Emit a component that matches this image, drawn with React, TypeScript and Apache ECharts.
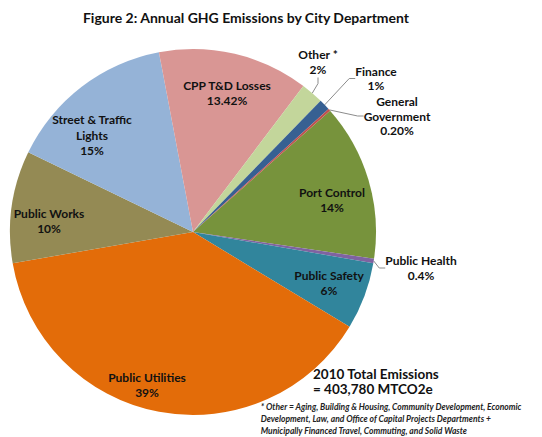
import React, { useEffect, useRef } from "react";
import * as echarts from "echarts";

const departments = [
  "Port Control",
  "Public Health",
  "Public Safety",
  "Public Utilities",
  "Public Works",
  "Street & Traffic Lights",
  "CPP T&D Losses",
  "Other *",
  "Finance",
  "General Government",
];
const displayNames = [
  "Port Control",
  "Public Health",
  "Public Safety",
  "Public Utilities",
  "Public Works",
  "Street & Traffic\nLights",
  "CPP T&D Losses",
  "Other *",
  "Finance",
  "General\nGovernment",
];
const shares = [14, 0.4, 6, 39, 10, 15, 13.42, 2, 1, 0.2];
const shareText = ["14%", "0.4%", "6%", "39%", "10%", "15%", "13.42%", "2%", "1%", "0.20%"];
const outsideLabel = [false, true, false, false, false, false, false, true, true, true];

const sliceColors = [
  "#77933C",
  "#7F63A1",
  "#31859C",
  "#E36C09",
  "#948A54",
  "#95B3D7",
  "#D99694",
  "#C3D69B",
  "#376092",
  "#C0504D",
];
// label centres (layout only)
const labelCentres: [number, number][] = [
  [332, 200],
  [421, 268],
  [329, 283],
  [147, 385],
  [49, 221],
  [92, 135],
  [227, 93],
  [318, 62],
  [376, 78.5],
  [397, 116],
];
const labelLineHeights = [15.5, 15.5, 15.5, 15.5, 15.5, 15.5, 15.5, 15.5, 14.5, 14.5];

const FONT = "Lato, 'Open Sans', sans-serif";

export default function App() {
  const ref = useRef<HTMLDivElement>(null);
  useEffect(() => {
    if (!ref.current) return;
    const chart = echarts.init(ref.current, undefined, { renderer: "svg" });
    const data = departments.map((name, i) => ({
      name,
      value: shares[i],
      itemStyle: { color: sliceColors[i] },
      label: {
        position: outsideLabel[i] ? "outside" : "inside",
        formatter: displayNames[i] + "\n" + shareText[i],
        lineHeight: labelLineHeights[i],
      },
      labelLine: { show: outsideLabel[i] },
    }));
    chart.setOption({
      animation: false,
      backgroundColor: "#ffffff",
      title: {
        text: "Figure 2: Annual GHG Emissions by City Department",
        left: 241,
        textAlign: "center",
        top: 5,
        textStyle: { fontFamily: FONT, fontWeight: "bold", fontSize: 14, color: "#111" },
      },
      series: [
        {
          type: "pie",
          center: [193, 232],
          radius: [0, 183],
          startAngle: 41.5,
          clockwise: true,
          avoidLabelOverlap: false,
          itemStyle: { borderWidth: 0 },
          label: {
            show: true,
            fontFamily: FONT,
            fontWeight: "bold",
            fontSize: 12,
            lineHeight: 15.5,
            color: "#111",
            align: "center",
          },
          labelLine: {
            show: true,
            length: 8,
            length2: 6,
            lineStyle: { color: "#8c8c8c", width: 1 },
          },
          labelLayout: (params: any) => {
            const c = labelCentres[params.dataIndex];
            return { x: c[0], y: c[1], align: "center", verticalAlign: "middle" };
          },
          data,
        },
      ],
      graphic: [
        {
          type: "text",
          left: 313,
          top: 366,
          style: {
            text: "2010 Total Emissions\n= 403,780 MTCO2e",
            fontFamily: FONT,
            fontWeight: "bold",
            fontSize: 13.5,
            lineHeight: 15.5,
            fill: "#111",
          },
        },
        {
          type: "text",
          right: 20,
          top: 401,
          style: {
            text:
              "* Other = Aging, Building & Housing, Community Development, Economic\nDevelopment, Law, and Office of Capital Projects Departments +\nMunicipally Financed Travel, Commuting, and Solid Waste",
            fontFamily: FONT,
            fontWeight: "bold",
            fontStyle: "italic",
            fontSize: 8.5,
            lineHeight: 12,
            align: "right",
            fill: "#222",
          },
        },
      ],
    });
    return () => chart.dispose();
  }, []);
  return (
    <div
      ref={ref}
      style={{ position: "fixed", left: 0, top: 0, width: 542, height: 437, background: "#fff" }}
    />
  );
}
